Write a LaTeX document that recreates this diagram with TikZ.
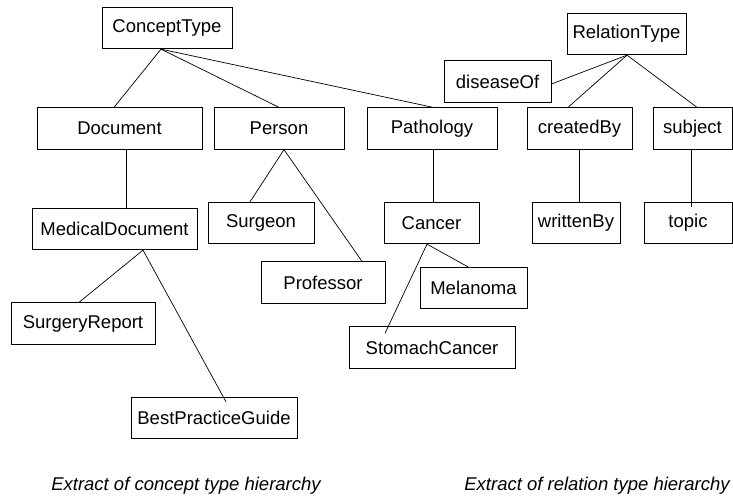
\documentclass[tikz,border=0pt]{standalone}
\usepackage{fontspec}
\setmainfont{Liberation Sans}
\begin{document}
\begin{tikzpicture}[x=1pt,y=-1pt,
  box/.style={draw, line width=0.8pt, inner sep=0pt, minimum height=41.5pt,
    font=\fontsize{18.5}{22}\selectfont},
  link/.style={line width=0.7pt},
  caption/.style={font=\fontsize{18.5}{22}\selectfont\itshape, inner sep=0pt}]
\useasboundingbox (0,0) rectangle (733,497);

% concept type hierarchy
\node[box, minimum width=130pt] (ct)   at (167,28)    {ConceptType};
\node[box, minimum width=165pt] (doc)  at (119.5,128.5) {Document};
\node[box, minimum width=130pt] (per)  at (279,128.5) {Person};
\node[box, minimum width=130pt] (path) at (432,128.5) {Pathology};
\node[box, minimum width=165pt] (med)  at (114.5,229) {MedicalDocument};
\node[box, minimum width=106pt] (surg) at (261,223)   {Surgeon};
\node[box, minimum width=124pt] (prof) at (323,282.5) {Professor};
\node[box, minimum width=144pt] (rep)  at (83,323.5)  {SurgeryReport};
\node[box, minimum width=166pt] (bpg)  at (214,418)   {BestPracticeGuide};
\node[box, minimum width=95pt]  (canc) at (431.5,223) {Cancer};
\node[box, minimum width=107pt] (mel)  at (473.5,288) {Melanoma};
\node[box, minimum width=166pt] (stom) at (432,347.5) {StomachCancer};

% relation type hierarchy
\node[box, minimum width=119pt] (rt)   at (626.5,34)  {RelationType};
\node[box, minimum width=107pt] (dis)  at (497.5,81.5) {diseaseOf};
\node[box, minimum width=105pt] (cby)  at (579.5,128.5) {createdBy};
\node[box, minimum width=79pt]  (subj) at (692.5,128.5) {subject};
\node[box, minimum width=88pt]  (wby)  at (576,223)   {writtenBy};
\node[box, minimum width=88pt]  (top)  at (688,223)   {topic};

% concept links
\draw[link] ([xshift=-6pt]ct.south) -- ([xshift=-5.5pt]doc.north);
\draw[link] ([xshift=-6pt]ct.south) -- (per.north);
\draw[link] ([xshift=-6pt]ct.south) -- ([xshift=1pt]path.north);
\draw[link] ([xshift=6.5pt]doc.south) -- ([xshift=11.5pt]med.north);
\draw[link] ([xshift=5pt]per.south) -- ([xshift=-11pt]surg.north);
\draw[link] ([xshift=5pt]per.south) -- ([xshift=39pt]prof.north);
\draw[link] ([xshift=28.5pt]med.south) -- ([xshift=-4pt]rep.north);
\draw[link] ([xshift=28.5pt]med.south) -- ([xshift=12pt,yshift=-5pt]bpg.north);
\draw[link] ([xshift=1pt]path.south) -- ([xshift=1.5pt]canc.north);
\draw[link] ([xshift=-4.5pt]canc.south) -- ([xshift=-5.5pt]mel.north);
\draw[link] ([xshift=-4.5pt]canc.south) -- ([xshift=-47pt,yshift=-7pt]stom.north);

% relation links
\draw[link] ([xshift=0.5pt]rt.south) -- ([yshift=-2.5pt]dis.east);
\draw[link] ([xshift=0.5pt]rt.south) -- ([xshift=-11.5pt]cby.north);
\draw[link] ([xshift=0.5pt]rt.south) -- ([xshift=4.5pt]subj.north);
\draw[link] ([xshift=-0.5pt]cby.south) -- ([xshift=3pt]wby.north);
\draw[link] ([xshift=-1.5pt]subj.south) -- ([xshift=3pt,yshift=-5pt]top.north);

% captions
\node[caption] (capc) at (186,486) {Extract of concept type hierarchy};
\node[caption] (capr) at (597,486) {Extract of relation type hierarchy};
\end{tikzpicture}
\end{document}
